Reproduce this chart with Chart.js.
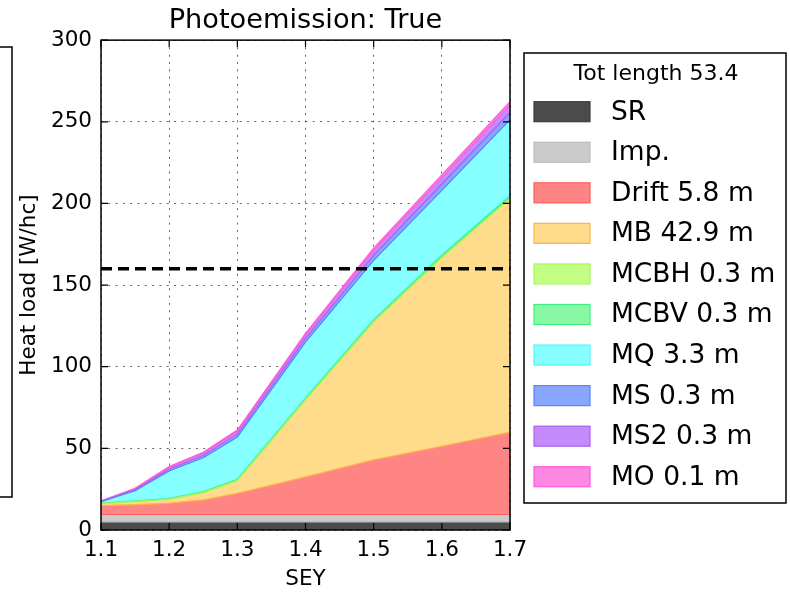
<!DOCTYPE html>
<html>
<head>
<meta charset="utf-8">
<script src="https://cdn.jsdelivr.net/npm/chart.js@4.4.0/dist/chart.umd.min.js"></script>
<style>
  html, body { margin: 0; padding: 0; background: #fff; }
</style>
</head>
<body>
<canvas id="heatLoadChart" width="790" height="592"></canvas>
<script>
// SEY scan points (x axis)
const sey = [1.1, 1.15, 1.2, 1.25, 1.3, 1.4, 1.5, 1.6, 1.7];

// heat load per element [W/hc], stacked bottom -> top
const srLoad    = [5, 5, 5, 5, 5, 5, 5, 5, 5];
const impLoad   = [4.5, 4.5, 4.5, 4.5, 4.5, 4.5, 4.5, 4.5, 4.5];
const driftLoad = [5.5, 6.1, 7.0, 9.0, 13.0, 23.0, 33.5, 41.8, 50.5];
const mbLoad    = [1.2, 1.8, 2.3, 4.4, 7.8, 47.3, 84.6, 115.7, 143.0];
const mcbhLoad  = [0.2, 0.2, 0.3, 0.3, 0.4, 0.6, 0.7, 0.8, 1.0];
const mcbvLoad  = [0.2, 0.2, 0.3, 0.3, 0.4, 0.6, 0.7, 0.8, 1.0];
const mqLoad    = [0.7, 6.2, 16.7, 20.7, 25.9, 34.0, 36.1, 39.4, 46.3];
const msLoad    = [0.2, 0.6, 1.1, 1.4, 1.7, 2.3, 3.1, 3.9, 4.5];
const ms2Load   = [0.2, 0.6, 1.1, 1.4, 1.7, 2.2, 3.1, 3.9, 4.5];
const moLoad    = [0.1, 0.3, 0.5, 0.6, 0.8, 1.0, 1.3, 1.7, 2.0];

const seriesLabels = ['SR', 'Imp.', 'Drift 5.8 m', 'MB 42.9 m', 'MCBH 0.3 m',
  'MCBV 0.3 m', 'MQ 3.3 m', 'MS 0.3 m', 'MS2 0.3 m', 'MO 0.1 m'];
const legendTitle = 'Tot length 53.4';
const chartTitle = 'Photoemission: True';
const heatLimit = 160;

const layers = [srLoad, impLoad, driftLoad, mbLoad, mcbhLoad, mcbvLoad, mqLoad, msLoad, ms2Load, moLoad];
const fillColors = ['#4b4b4b', '#cbcbcb', '#ff8585', '#fedc8c', '#c2fd84',
  '#88f8a4', '#85ffff', '#88a6fe', '#c38cfa', '#fd88e2'];
const edgeColors = ['#3c3c3c', '#bdbdbd', '#ff5c5c', '#ffb347', '#a8f55a',
  '#40ee80', '#55f5f5', '#5c80ff', '#a860f5', '#ff5ad8'];

const FONT = 'DejaVu Sans';
Chart.defaults.font.family = FONT;
Chart.defaults.color = '#000';

const datasets = layers.map((vals, i) => ({
  label: seriesLabels[i],
  data: vals.map((v, j) => ({ x: sey[j], y: v })),
  backgroundColor: fillColors[i],
  // boundary shows the edge of the layer above (as in the original plot)
  borderColor: edgeColors[i + 1] || edgeColors[i],
  borderWidth: (i === 3 || i === 4) ? 1.6 : 1.2,
  fill: i === 0 ? 'origin' : '-1',
  pointRadius: 0,
  tension: 0
}));

datasets.push({
  label: 'limit',
  data: [{ x: sey[0], y: heatLimit }, { x: sey[sey.length - 1], y: heatLimit }],
  borderColor: '#000',
  borderWidth: 3.5,
  borderDash: [11, 6],
  fill: false,
  pointRadius: 0,
  stack: 'ref',
  order: -1
});

// axes frame, inward ticks and the boxed legend
const framePlugin = {
  id: 'framePlugin',
  afterDraw(chart) {
    const { ctx, chartArea: a, scales } = chart;
    ctx.save();
    ctx.strokeStyle = '#000';
    ctx.lineWidth = 1.5;
    ctx.strokeRect(a.left, a.top, a.right - a.left, a.bottom - a.top);

    const tl = 7;
    ctx.lineWidth = 1.2;
    ctx.beginPath();
    scales.x.ticks.forEach(t => {
      const px = scales.x.getPixelForValue(t.value);
      ctx.moveTo(px, a.bottom); ctx.lineTo(px, a.bottom - tl);
      ctx.moveTo(px, a.top); ctx.lineTo(px, a.top + tl);
    });
    scales.y.ticks.forEach(t => {
      const py = scales.y.getPixelForValue(t.value);
      ctx.moveTo(a.left, py); ctx.lineTo(a.left + tl, py);
      ctx.moveTo(a.right, py); ctx.lineTo(a.right - tl, py);
    });
    ctx.stroke();

    // cut-off legend frame of the neighbouring panel
    ctx.lineWidth = 1.5;
    ctx.beginPath();
    ctx.moveTo(0, 47); ctx.lineTo(12, 47); ctx.lineTo(12, 497); ctx.lineTo(0, 497);
    ctx.stroke();

    // legend
    ctx.strokeRect(524, 53, 262, 450);
    ctx.fillStyle = '#000';
    ctx.textAlign = 'center';
    ctx.textBaseline = 'middle';
    ctx.font = `22px "${FONT}"`;
    ctx.fillText(legendTitle, 656, 74);
    ctx.textAlign = 'left';
    ctx.font = `26.5px "${FONT}"`;
    seriesLabels.forEach((lbl, i) => {
      const cy = 111.7 + i * 40.56;
      ctx.fillStyle = fillColors[i];
      ctx.fillRect(534, cy - 10, 56, 20);
      ctx.strokeStyle = edgeColors[i];
      ctx.lineWidth = 1.2;
      ctx.strokeRect(534, cy - 10, 56, 20);
      ctx.fillStyle = '#000';
      ctx.fillText(lbl, 611, cy + 1);
    });
    ctx.restore();
  }
};

new Chart(document.getElementById('heatLoadChart'), {
  type: 'line',
  data: { datasets },
  options: {
    responsive: false,
    animation: false,
    layout: { padding: { left: 0, right: 280, top: 0, bottom: 0 } },
    plugins: {
      legend: { display: false },
      tooltip: { enabled: false },
      title: {
        display: true,
        text: chartTitle,
        fullSize: false,
        color: '#000',
        font: { size: 27.2, weight: 'normal' },
        padding: { top: 5, bottom: 2.5 }
      }
    },
    scales: {
      x: {
        type: 'linear',
        min: 1.1,
        max: 1.7,
        z: 1,
        ticks: {
          stepSize: 0.1,
          autoSkip: false,
          maxRotation: 0,
          padding: 8,
          color: '#000',
          font: { size: 21.5 },
          callback: v => v.toFixed(1)
        },
        grid: { color: 'rgba(0,0,0,0.6)', lineWidth: 1, drawTicks: false },
        border: { display: false, dash: [2, 5.3] },
        title: { display: true, text: 'SEY', color: '#000', font: { size: 21.5 }, padding: 0 },
        afterFit: s => { s.height = 62; }
      },
      y: {
        stacked: true,
        min: 0,
        max: 300,
        z: 1,
        ticks: { stepSize: 50, padding: 9, color: '#000', font: { size: 21.5 } },
        grid: { color: 'rgba(0,0,0,0.6)', lineWidth: 1, drawTicks: false },
        border: { display: false, dash: [2, 5.3] },
        title: { display: true, text: 'Heat load [W/hc]', color: '#000', font: { size: 21.5 }, padding: { top: 17, bottom: 0 } },
        afterFit: s => { s.width = 101; }
      }
    }
  },
  plugins: [framePlugin]
});
</script>
</body>
</html>
